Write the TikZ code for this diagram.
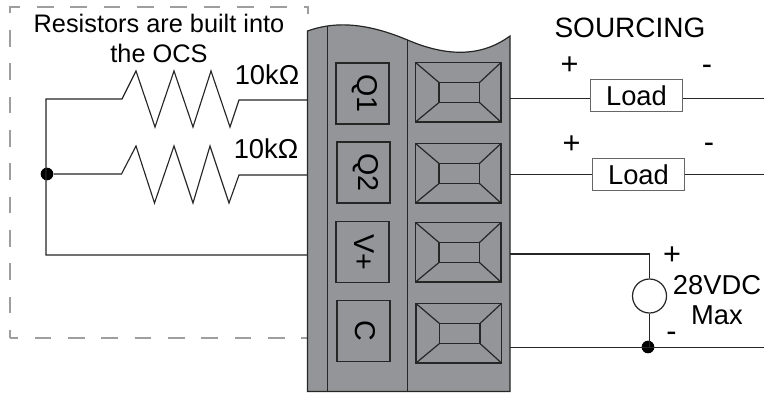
\documentclass[tikz,border=0pt]{standalone}
\usepackage{fontspec}
\setmainfont{Liberation Sans}
\definecolor{bodygray}{RGB}{147,149,152}
\tikzset{
  x=0.75pt,y=-0.75pt,
  wire/.style={draw=black!85,line width=0.85pt,line join=miter},
  frame/.style={draw=black!38,line width=1pt,dash pattern=on 12.5pt off 12.5pt,dash phase=6.5pt},
  body/.style={draw=black!85,line width=0.9pt,fill=bodygray},
  port/.style={draw=black!85,line width=0.9pt},
  pin/.style={port,draw,inner sep=0pt,minimum width=39.75pt,minimum height=45.75pt},
  pintext/.style={inner sep=0pt,xshift=1.5pt,font=\fontsize{21.5}{21.5}\selectfont,text=black,rotate=-90},
  label/.style={inner sep=0pt,font=\fontsize{20.5}{20.5}\selectfont,text=black},
  heading/.style={inner sep=0pt,font=\fontsize{21}{21}\selectfont,text=black},
  note/.style={inner sep=0pt,font=\fontsize{19}{19}\selectfont,text=black},
  sign/.style={inner sep=0pt,font=\fontsize{23}{23}\selectfont,text=black},
  loadbox/.style={draw=black!60,line width=0.9pt,fill=white,inner sep=0pt,minimum width=69pt,minimum height=24pt,font=\fontsize{20.5}{20.5}\selectfont},
  srcnode/.style={circle,draw=black!85,line width=0.9pt,fill=white,inner sep=0pt,minimum size=25.5pt},
  dotnode/.style={circle,fill=black,inner sep=0pt,minimum size=9.5pt},
}
\newcommand{\terminal}[4]{%
  \draw[port] (#1,#3) rectangle (#2,#4);
  \draw[port] (#1+23.5,#3+20) rectangle (#2-21.5,#3+40);
  \draw[port] (#1,#3) -- (#1+23.5,#3+20) (#2,#3) -- (#2-21.5,#3+20)
              (#1,#4) -- (#1+23.5,#3+40) (#2,#4) -- (#2-21.5,#3+40);
}
\begin{document}
\begin{tikzpicture}
\useasboundingbox (0,0) rectangle (764,393);
\fill[white] (0,0) rectangle (764,393);
% dashed frame
\draw[frame] (10,338) -- (10,7) -- (308,7) -- (308,14);
\draw[frame] (10,338) -- (307,338);
% body
\draw[body] (307.5,31) .. controls (330,23) and (360,20) .. (407.5,40)
   .. controls (445,56) and (480,58) .. (510,36) -- (510,391.5) -- (307.5,391.5) -- cycle;
\draw[port] (327.5,26) -- (327.5,391.5);
\draw[port] (407.5,40) -- (407.5,391.5);
\coordinate (p1) at (307.5,100);
\coordinate (p2) at (307.5,175);
\coordinate (p3) at (307.5,255);
\coordinate (t1) at (510,98.5);
\coordinate (t2) at (510,174.5);
\coordinate (t3) at (510,254);
\coordinate (t4) at (510,347.5);
\coordinate (e1) at (764,98.5);
\coordinate (e2) at (764,174.5);
\coordinate (e4) at (764,347.5);
% marked boxes
\node[pin] (q1) at (362.5,93.5) {};
\node[pin] (q2) at (363.5,172.5) {};
\node[pin] (vp) at (362.5,252) {};
\node[pin] (cc) at (363.5,331) {};
\node[pintext] at (q1) {Q1};
\node[pintext] at (q2) {Q2};
\node[pintext] at (vp) {V+};
\node[pintext] at (cc) {C};
\terminal{415.5}{501}{62.5}{122}
\terminal{415.5}{501}{143.5}{203}
\terminal{415.5}{501}{222.5}{282}
\terminal{416}{501.5}{303.5}{363}
% left circuit
\node[dotnode] (j1) at (47,174) {};
\draw[wire] (p1) -- (239,100) -- (230,127) -- (211,71) -- (193,127) -- (174,71) -- (155,127) -- (136,71) -- (122,99) -- (46,99) -- (46,255) -- (p3);
\draw[wire] (j1) -- (121.5,174) -- (136,146) -- (154.5,203) -- (174,146) -- (193,203) -- (210,146) -- (229,203) -- (239,175) -- (p2);
% right circuit
\node[loadbox] (l1) at (636.5,95.5) {Load};
\node[loadbox] (l2) at (638.5,174.5) {Load};
\draw[wire] (t1) -- (l1.west |- t1);
\draw[wire] (l1.east |- e1) -- (e1);
\draw[wire] (t2) -- (l2.west |- t2);
\draw[wire] (l2.east |- e2) -- (e2);
\node[srcnode] (src) at (649.5,296) {};
\node[dotnode] (j2) at (648,347) {};
\draw[wire] (t3) -- (src.north |- t3) -- (src.north);
\draw[wire] (src.south) -- (src.south |- j2);
\draw[wire] (t4) -- (e4);
% text
\node[note,align=center] at (159,38.5) {Resistors are built into\\[3pt]the OCS};
\node[label] at (267,75) {10kΩ};
\node[label] at (266,149) {10kΩ};
\node[heading] at (630,28) {SOURCING};
\node[sign] at (569.5,66) {+};
\node[sign] at (707,70) {-};
\node[sign] at (571.5,145) {+};
\node[sign] at (709,148) {-};
\node[sign] at (672,256) {+};
\node[sign] at (671.5,337) {-};
\node[label] at (717,285) {28VDC};
\node[label] at (717,315) {Max};
\end{tikzpicture}
\end{document}
